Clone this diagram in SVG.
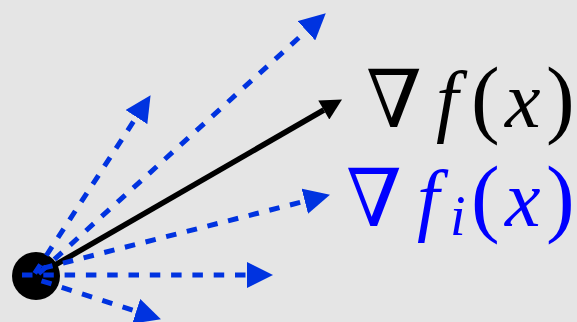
<svg xmlns="http://www.w3.org/2000/svg" width="577" height="322" viewBox="0 0 577 322">
<defs>
<style>
.bg{fill:#e5e5e5}
.blue{fill:none;stroke:#0033e0;stroke-width:5;stroke-dasharray:10.5 10.8}
.blk{fill:none;stroke:#000;stroke-width:5.5}
.nab{font-family:"DejaVu Serif",serif;font-size:80px}
.mi{font-family:"Liberation Serif","Times New Roman",serif;font-style:italic;font-size:80px}
.sub{font-size:56px}
.rm{font-family:"Liberation Serif","Times New Roman",serif;font-size:86px}
</style>
<marker id="hb" markerUnits="userSpaceOnUse" markerWidth="26" markerHeight="26" refX="0" refY="12.5" orient="auto" viewBox="0 0 25 25">
<path d="M0,0 L25,12.5 L0,25 Z" fill="#0033e0"/>
</marker>
<marker id="hk" markerUnits="userSpaceOnUse" markerWidth="22" markerHeight="22" refX="0" refY="11" orient="auto" viewBox="0 0 21 22">
<path d="M0,0 L21,11 L0,22 Z" fill="#000"/>
</marker>
</defs>
<rect class="bg" x="0" y="0" width="577" height="322"/>
<g id="origin">
<circle cx="36" cy="276" r="24" fill="#000"/>
</g>
<g id="connectors">
<line class="blk" x1="36" y1="276" x2="323.8" y2="110" marker-end="url(#hk)"/>
<line class="blue" x1="36" y1="276" x2="306.5" y2="30.8" stroke-dashoffset="17.85" marker-end="url(#hb)"/>
<line class="blue" x1="33" y1="276" x2="136.4" y2="117.05" stroke-dashoffset="18.15" marker-end="url(#hb)"/>
<line class="blue" x1="36" y1="270" x2="304.8" y2="201.2" stroke-dashoffset="14.75" marker-end="url(#hb)"/>
<line class="blue" x1="22" y1="275" x2="247" y2="275" stroke-dashoffset="0" marker-end="url(#hb)"/>
<line class="blue" x1="36" y1="279" x2="136.2" y2="311.3" stroke-dashoffset="15.55" marker-end="url(#hb)"/>
</g>
<g id="label-grad-f" fill="#000">
<text class="nab" x="366" y="127">∇</text>
<text class="mi" x="436" y="127">f</text>
<text class="rm" x="471" y="127">(</text>
<text class="mi" x="505" y="127">x</text>
<text class="rm" x="546" y="127">)</text>
</g>
<g id="label-grad-fi" fill="#0000ff">
<text class="nab" x="346" y="226">∇</text>
<text class="mi" x="417" y="226">f</text>
<text class="mi sub" x="450" y="235">i</text>
<text class="rm" x="471" y="226">(</text>
<text class="mi" x="505" y="226">x</text>
<text class="rm" x="546" y="226">)</text>
</g>
</svg>
